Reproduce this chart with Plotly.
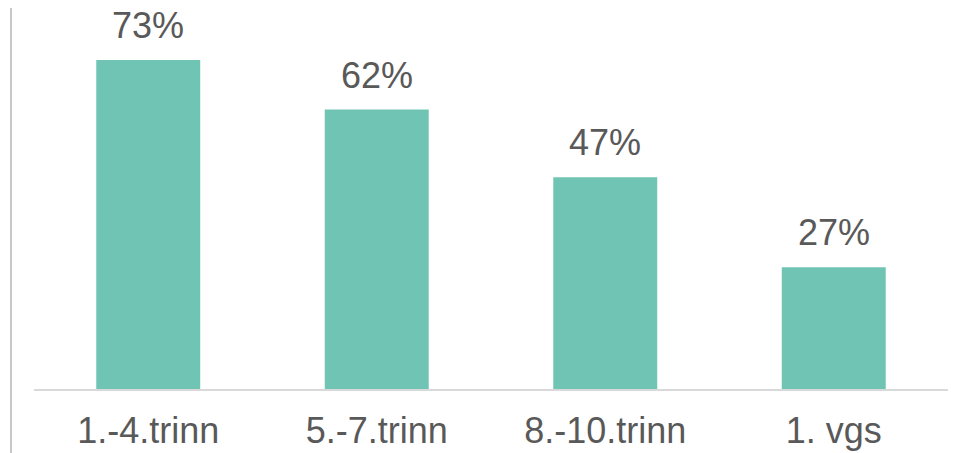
import plotly.graph_objects as go

categories = ["1.-4.trinn", "5.-7.trinn", "8.-10.trinn", "1. vgs"]
values = [73, 62, 47, 27]
labels = ["73%", "62%", "47%", "27%"]

# page body adds an 8px offset; compensate
OFF = 8
W, H = 956, 453
ml, mr = 34 - OFF, 8 + OFF
mt = 0
baseline = 389 - OFF
mb = H - baseline
plot_h = H - mt - mb
px_per_unit = 329 / 73.0
ymax = (plot_h) / px_per_unit

fig = go.Figure(go.Bar(
    x=categories, y=values,
    marker=dict(color="#70C4B3", line=dict(width=0)),
    hoverinfo="skip",
))

for c, v, t in zip(categories, values, labels):
    fig.add_annotation(x=c, y=v, text=t, showarrow=False, yanchor="bottom",
                       yshift=12, font=dict(family="Liberation Sans, Arial", size=36, color="#595959"))

plot_w = W - ml - mr
xl = (11 - OFF - ml) / plot_w
fig.add_shape(type="line", xref="paper", yref="paper",
              x0=xl, x1=xl,
              y0=-mb / plot_h, y1=1.0,
              line=dict(color="#C8C8C8", width=2))

fig.update_layout(
    width=W, height=H,
    margin=dict(l=ml, r=mr, t=mt, b=mb),
    paper_bgcolor="white", plot_bgcolor="white",
    bargap=0.545,
    showlegend=False,
    font=dict(family="Liberation Sans, Arial", color="#595959"),
    xaxis=dict(showline=True, linecolor="#D9D9D9", linewidth=1.5,
               showgrid=False, ticks="", ticklabelstandoff=9,
               tickfont=dict(size=36, color="#595959"), fixedrange=True),
    yaxis=dict(range=[0, ymax], visible=False, showgrid=False, fixedrange=True),
)

fig.write_html("out.html", config={"displayModeBar": False})
